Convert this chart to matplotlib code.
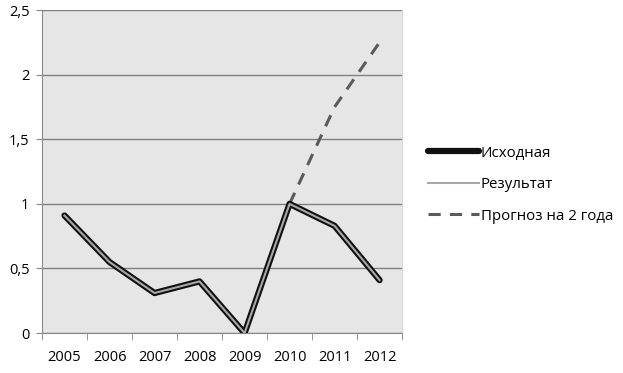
import matplotlib
matplotlib.use("Agg")
import matplotlib.pyplot as plt
from matplotlib.ticker import FuncFormatter, FixedLocator
import numpy as np

years = ["2005", "2006", "2007", "2008", "2009", "2010", "2011", "2012"]
source = [0.91, 0.55, 0.31, 0.40, 0.0, 1.0, 0.83, 0.41]
result = [0.91, 0.55, 0.31, 0.40, 0.0, 1.0, 0.83, 0.41]
forecast_years = ["2010", "2011", "2012"]
forecast = [1.0, 1.75, 2.25]

plt.rcParams['font.family'] = ['Open Sans', 'DejaVu Sans']

fig = plt.figure(figsize=(6.23, 3.73), dpi=100)
ax = fig.add_axes([0.0674, 0.107, 0.578, 0.866])
ax.set_facecolor('#e6e6e6')

x = np.arange(len(years))
xf = np.array([years.index(y) for y in forecast_years])

ax.plot(xf, forecast, color='#5a5a5a', lw=2.2, dashes=(4, 3), label='Прогноз на 2 года', zorder=2)
ax.plot(x, source, color='#111111', lw=4.5, solid_capstyle='round', label='Исходная', zorder=3)
ax.plot(x, result, color='#a8a8a8', lw=1.5, label='Результат', zorder=4)

ax.set_xlim(-0.5, len(years) - 0.5)
ax.set_ylim(0, 2.5)
ax.set_yticks(np.arange(0, 2.51, 0.5))
ax.yaxis.set_major_formatter(FuncFormatter(lambda v, p: ('%g' % v).replace('.', ',')))
ax.set_xticks(x)
ax.set_xticklabels(years)
ax.xaxis.set_minor_locator(FixedLocator(np.arange(-0.5, len(years), 1.0)))
ax.tick_params(axis='x', which='major', length=0, labelsize=10.5, pad=12)
ax.tick_params(axis='x', which='minor', length=5, color='#888888')
ax.tick_params(axis='y', length=4, color='#888888', labelsize=10.5, pad=5)
ax.grid(axis='y', color='#808080', lw=1)
ax.set_axisbelow(True)
ax.spines['top'].set_visible(False)
ax.spines['right'].set_color('#d8d8d8')
for s in ['left', 'bottom']:
    ax.spines[s].set_color('#888888')

h, l = ax.get_legend_handles_labels()
order = [1, 2, 0]
ax.legend([h[i] for i in order], [l[i] for i in order], loc='center left',
          bbox_to_anchor=(1.035, 0.46), frameon=False, fontsize=10.8,
          handlelength=3.4, handletextpad=0.1, labelspacing=1.1)

fig.savefig('out.png', dpi=100)
